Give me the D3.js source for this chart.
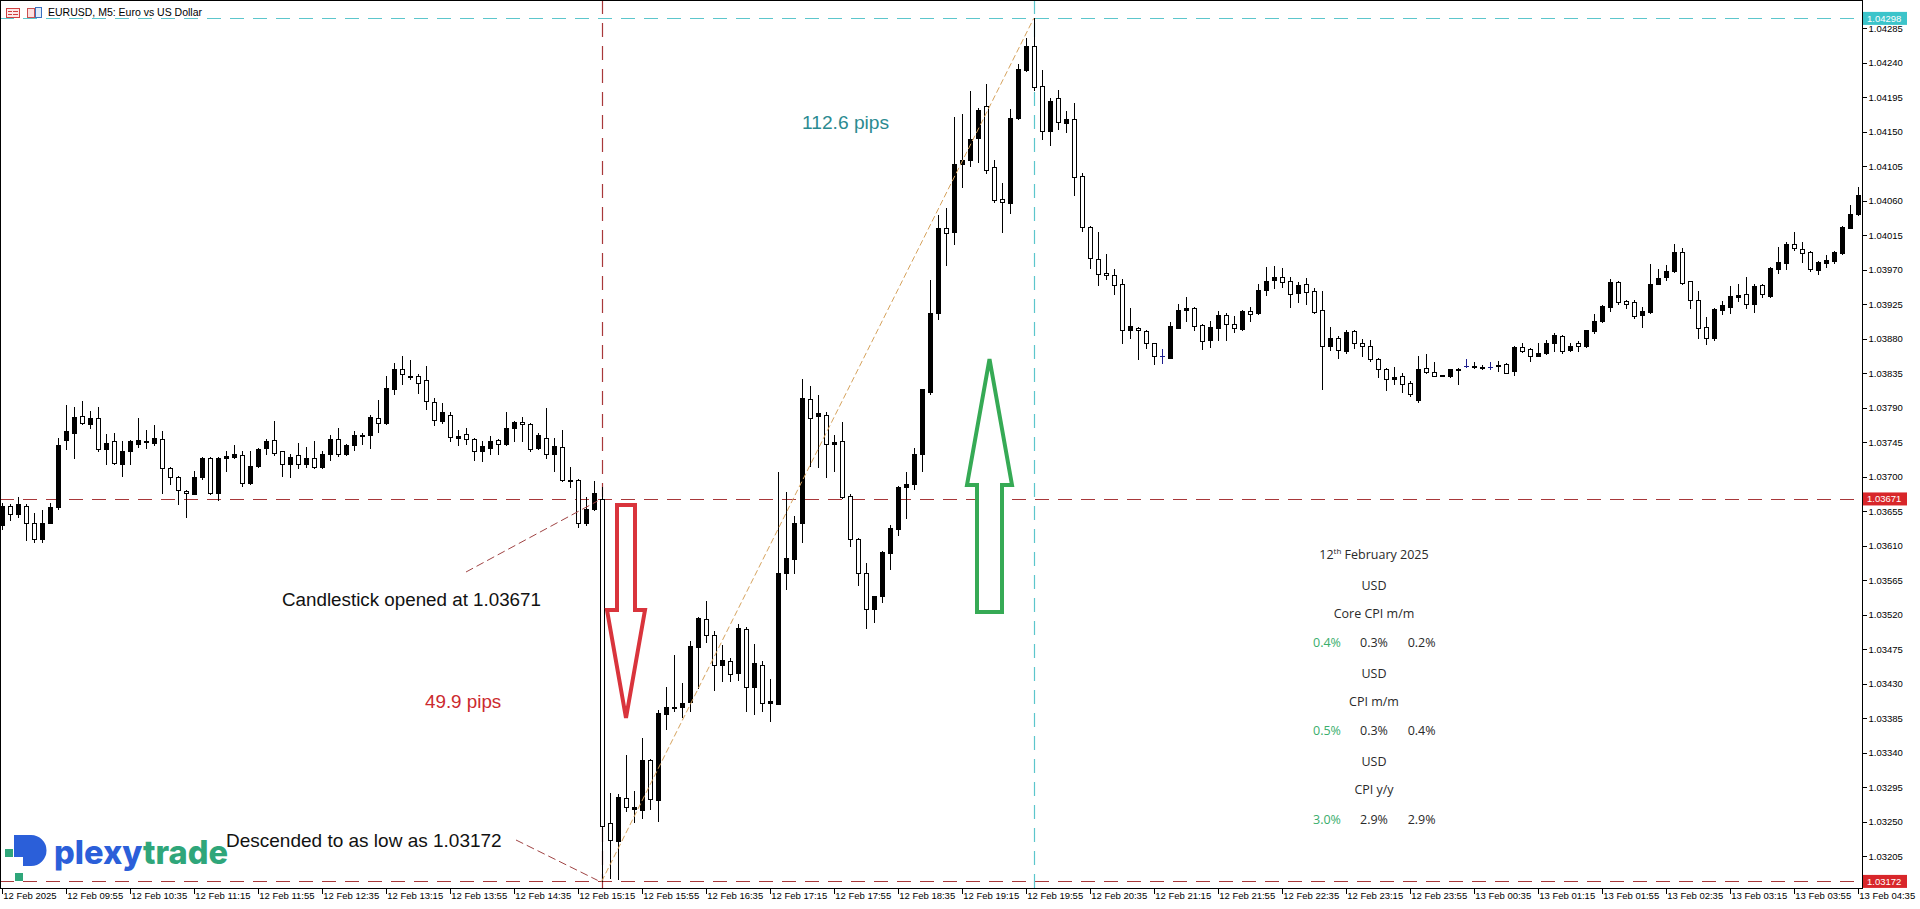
<!DOCTYPE html>
<html><head><meta charset="utf-8">
<script src="https://cdn.jsdelivr.net/npm/d3@7/dist/d3.min.js"></script>
<style>
html,body{margin:0;padding:0;background:#fff;overflow:hidden}
svg{display:block}
</style></head>
<body>
<svg id="c" width="1920" height="909"></svg>
<script>
// ---------- DATA ----------
const timeLabels = ["12 Feb 2025","12 Feb 09:55","12 Feb 10:35","12 Feb 11:15","12 Feb 11:55","12 Feb 12:35","12 Feb 13:15","12 Feb 13:55","12 Feb 14:35","12 Feb 15:15","12 Feb 15:55","12 Feb 16:35","12 Feb 17:15","12 Feb 17:55","12 Feb 18:35","12 Feb 19:15","12 Feb 19:55","12 Feb 20:35","12 Feb 21:15","12 Feb 21:55","12 Feb 22:35","12 Feb 23:15","12 Feb 23:55","13 Feb 00:35","13 Feb 01:15","13 Feb 01:55","13 Feb 02:35","13 Feb 03:15","13 Feb 03:55","13 Feb 04:35"];
const barsPerLabel = 8;

const open = [1.03637,1.03662,1.03651,1.03662,1.03640,1.03619,1.03640,1.03661,1.03748,1.03757,
1.03779,1.03769,1.03776,1.03736,1.03746,1.03717,1.03733,1.03743,1.03746,1.03744,
1.03749,1.03712,1.03700,1.03682,1.03678,1.03699,1.03725,1.03679,1.03725,1.03726,
1.03729,1.03692,1.03714,1.03738,1.03748,1.03733,1.03716,1.03729,1.03716,1.03725,
1.03713,1.03730,1.03749,1.03730,1.03742,1.03753,1.03755,1.03777,1.03770,1.03815,
1.03841,1.03830,1.03832,1.03826,1.03798,1.03773,1.03781,1.03751,1.03756,1.03749,
1.03733,1.03738,1.03748,1.03743,1.03763,1.03772,1.03769,1.03738,1.03751,1.03730,
1.03739,1.03695,1.03696,1.03639,1.03658,1.03671,1.03248,1.03225,1.03281,1.03267,
1.03265,1.03330,1.03278,1.03391,1.03398,1.03400,1.03406,1.03478,1.03515,1.03494,
1.03455,1.03460,1.03444,1.03501,1.03426,1.03455,1.03405,1.03404,1.03575,1.03593,
1.03639,1.03801,1.03779,1.03781,1.03743,1.03746,1.03675,1.03619,1.03575,1.03528,
1.03545,1.03601,1.03632,1.03687,1.03691,1.03730,1.03810,1.03913,1.04024,1.04019,
1.04108,1.04113,1.04142,1.04184,1.04104,1.04062,1.04057,1.04168,1.04231,1.04262,
1.04210,1.04151,1.04194,1.04161,1.04167,1.04093,1.04026,1.03984,1.03966,1.03963,
1.03951,1.03892,1.03894,1.03890,1.03874,1.03857,1.03855,1.03894,1.03918,1.03920,
1.03898,1.03878,1.03894,1.03911,1.03899,1.03893,1.03916,1.03913,1.03944,1.03957,
1.03960,1.03955,1.03940,1.03951,1.03942,1.03918,1.03870,1.03881,1.03864,1.03890,
1.03874,1.03871,1.03853,1.03840,1.03827,1.03832,1.03822,1.03800,1.03842,1.03836,
1.03831,1.03831,1.03840,1.03844,1.03844,1.03842,1.03843,1.03845,1.03847,1.03838,
1.03869,1.03866,1.03858,1.03861,1.03874,1.03884,1.03865,1.03874,1.03870,1.03890,
1.03903,1.03921,1.03954,1.03929,1.03928,1.03911,1.03915,1.03952,1.03960,1.03968,
1.03993,1.03955,1.03930,1.03895,1.03881,1.03918,1.03922,1.03935,1.03938,1.03925,
1.03950,1.03936,1.03971,1.03979,1.04003,1.03997,1.03993,1.03970,1.03979,1.03981,
1.03992,1.04025,1.04043];
const high = [1.03666,1.03665,1.03673,1.03664,1.03653,1.03656,1.03666,1.03751,1.03794,1.03791,
1.03799,1.03786,1.03791,1.03756,1.03757,1.03747,1.03748,1.03777,1.03761,1.03768,
1.03760,1.03713,1.03701,1.03683,1.03708,1.03726,1.03726,1.03726,1.03734,1.03742,
1.03734,1.03734,1.03738,1.03749,1.03773,1.03734,1.03730,1.03744,1.03739,1.03747,
1.03733,1.03755,1.03764,1.03743,1.03760,1.03757,1.03781,1.03800,1.03832,1.03848,
1.03858,1.03852,1.03834,1.03845,1.03803,1.03796,1.03785,1.03761,1.03763,1.03751,
1.03747,1.03753,1.03749,1.03785,1.03773,1.03778,1.03770,1.03757,1.03790,1.03751,
1.03761,1.03713,1.03697,1.03674,1.03695,1.03687,1.03288,1.03286,1.03337,1.03290,
1.03359,1.03332,1.03396,1.03426,1.03467,1.03431,1.03486,1.03517,1.03538,1.03499,
1.03480,1.03463,1.03508,1.03504,1.03482,1.03459,1.03436,1.03706,1.03680,1.03649,
1.03827,1.03818,1.03807,1.03784,1.03755,1.03772,1.03677,1.03620,1.03588,1.03545,
1.03603,1.03637,1.03688,1.03706,1.03738,1.03815,1.03957,1.04041,1.04050,1.04169,
1.04173,1.04203,1.04181,1.04212,1.04113,1.04083,1.04180,1.04239,1.04273,1.04298,
1.04231,1.04194,1.04204,1.04177,1.04188,1.04096,1.04027,1.04019,1.03991,1.03971,
1.03958,1.03920,1.03895,1.03892,1.03875,1.03866,1.03902,1.03926,1.03934,1.03921,
1.03899,1.03903,1.03916,1.03913,1.03910,1.03918,1.03921,1.03952,1.03973,1.03975,
1.03972,1.03960,1.03954,1.03959,1.03946,1.03942,1.03895,1.03883,1.03891,1.03892,
1.03880,1.03878,1.03855,1.03842,1.03843,1.03835,1.03825,1.03858,1.03860,1.03850,
1.03833,1.03841,1.03842,1.03853,1.03850,1.03846,1.03850,1.03851,1.03849,1.03870,
1.03874,1.03868,1.03874,1.03878,1.03887,1.03885,1.03874,1.03877,1.03892,1.03912,
1.03924,1.03958,1.03956,1.03930,1.03931,1.03921,1.03978,1.03971,1.03976,1.04004,
1.03998,1.03956,1.03942,1.03908,1.03920,1.03929,1.03949,1.03951,1.03960,1.03951,
1.03952,1.03973,1.04000,1.04006,1.04019,1.04006,1.03995,1.03982,1.03989,1.03995,
1.04027,1.04055,1.04078];
const low = [1.03632,1.03643,1.03648,1.03617,1.03615,1.03615,1.03639,1.03658,1.03736,1.03725,
1.03769,1.03764,1.03734,1.03717,1.03717,1.03701,1.03717,1.03739,1.03738,1.03742,
1.03679,1.03691,1.03665,1.03647,1.03677,1.03697,1.03678,1.03669,1.03708,1.03725,
1.03688,1.03691,1.03713,1.03730,1.03729,1.03701,1.03700,1.03712,1.03713,1.03712,
1.03712,1.03722,1.03727,1.03729,1.03735,1.03743,1.03738,1.03759,1.03769,1.03808,
1.03821,1.03828,1.03809,1.03789,1.03768,1.03770,1.03746,1.03742,1.03743,1.03722,
1.03720,1.03730,1.03730,1.03742,1.03747,1.03747,1.03734,1.03736,1.03725,1.03707,
1.03695,1.03686,1.03635,1.03637,1.03657,1.03172,1.03176,1.03175,1.03264,1.03250,
1.03255,1.03267,1.03251,1.03371,1.03394,1.03387,1.03394,1.03424,1.03485,1.03422,
1.03433,1.03434,1.03435,1.03394,1.03390,1.03394,1.03381,1.03403,1.03554,1.03574,
1.03615,1.03714,1.03713,1.03699,1.03708,1.03672,1.03609,1.03559,1.03503,1.03510,
1.03536,1.03580,1.03624,1.03646,1.03684,1.03708,1.03808,1.03906,1.03976,1.04004,
1.04078,1.04105,1.04110,1.04096,1.04059,1.04019,1.04044,1.04167,1.04229,1.04205,
1.04141,1.04133,1.04154,1.04150,1.04067,1.04021,1.03972,1.03950,1.03958,1.03938,
1.03874,1.03881,1.03853,1.03868,1.03847,1.03848,1.03855,1.03894,1.03903,1.03891,
1.03867,1.03869,1.03879,1.03879,1.03889,1.03892,1.03903,1.03912,1.03937,1.03946,
1.03947,1.03922,1.03928,1.03925,1.03914,1.03815,1.03865,1.03855,1.03862,1.03868,
1.03858,1.03851,1.03830,1.03813,1.03821,1.03811,1.03805,1.03797,1.03835,1.03831,
1.03831,1.03830,1.03821,1.03843,1.03842,1.03840,1.03841,1.03838,1.03835,1.03833,
1.03863,1.03851,1.03857,1.03860,1.03864,1.03862,1.03864,1.03864,1.03869,1.03887,
1.03902,1.03916,1.03926,1.03920,1.03907,1.03896,1.03914,1.03951,1.03957,1.03967,
1.03952,1.03920,1.03881,1.03873,1.03879,1.03912,1.03913,1.03929,1.03920,1.03915,
1.03934,1.03935,1.03966,1.03971,1.03996,1.03980,1.03968,1.03965,1.03973,1.03979,
1.03991,1.04024,1.04042];
const close = [1.03662,1.03652,1.03664,1.03640,1.03619,1.03640,1.03661,1.03742,1.03760,1.03778,
1.03770,1.03776,1.03736,1.03744,1.03718,1.03734,1.03746,1.03748,1.03747,1.03751,
1.03712,1.03700,1.03683,1.03679,1.03700,1.03725,1.03679,1.03725,1.03727,1.03730,
1.03692,1.03714,1.03736,1.03747,1.03731,1.03716,1.03726,1.03716,1.03725,1.03713,
1.03730,1.03749,1.03730,1.03742,1.03755,1.03755,1.03778,1.03770,1.03816,1.03841,
1.03834,1.03832,1.03822,1.03799,1.03774,1.03785,1.03752,1.03753,1.03749,1.03733,
1.03740,1.03747,1.03743,1.03764,1.03772,1.03769,1.03736,1.03755,1.03730,1.03740,
1.03696,1.03696,1.03639,1.03658,1.03679,1.03244,1.03226,1.03282,1.03269,1.03269,
1.03331,1.03280,1.03392,1.03399,1.03400,1.03405,1.03479,1.03516,1.03493,1.03455,
1.03461,1.03443,1.03503,1.03426,1.03457,1.03405,1.03407,1.03575,1.03594,1.03639,
1.03803,1.03776,1.03783,1.03743,1.03745,1.03674,1.03619,1.03575,1.03528,1.03545,
1.03602,1.03633,1.03687,1.03691,1.03730,1.03814,1.03913,1.04024,1.04018,1.04108,
1.04113,1.04141,1.04178,1.04100,1.04061,1.04058,1.04168,1.04232,1.04262,1.04208,
1.04151,1.04190,1.04163,1.04167,1.04091,1.04026,1.03985,1.03964,1.03963,1.03950,
1.03892,1.03897,1.03891,1.03874,1.03858,1.03857,1.03897,1.03918,1.03920,1.03897,
1.03877,1.03895,1.03911,1.03899,1.03894,1.03916,1.03912,1.03944,1.03956,1.03960,
1.03954,1.03939,1.03950,1.03941,1.03915,1.03870,1.03881,1.03865,1.03889,1.03874,
1.03871,1.03853,1.03840,1.03827,1.03830,1.03821,1.03808,1.03840,1.03836,1.03832,
1.03833,1.03840,1.03841,1.03844,1.03845,1.03843,1.03843,1.03846,1.03835,1.03869,
1.03864,1.03858,1.03862,1.03874,1.03885,1.03864,1.03871,1.03870,1.03891,1.03903,
1.03923,1.03954,1.03928,1.03926,1.03910,1.03916,1.03952,1.03959,1.03969,1.03993,
1.03953,1.03930,1.03894,1.03881,1.03919,1.03924,1.03936,1.03937,1.03926,1.03949,
1.03938,1.03972,1.03980,1.04004,1.03998,1.03992,1.03971,1.03980,1.03983,1.03993,
1.04026,1.04043,1.04067];

const priceTicks = [1.04285,1.04240,1.04195,1.04150,1.04105,1.04060,1.04015,1.03970,1.03925,1.03880,1.03835,1.03790,1.03745,1.03700,1.03655,1.03610,1.03565,1.03520,1.03475,1.03430,1.03385,1.03340,1.03295,1.03250,1.03205];

const levelOpen = 1.03671;   // release candle open
const levelLow  = 1.03172;   // post-release low
const levelHigh = 1.04298;   // session high
const releaseBar = 75;       // 12 Feb 15:30
const highBar = 129;         // 12 Feb 20:00

const panelDate = ["12","th"," February 2025"];
const panelCurrency = "USD";
const indicatorNames = ["Core CPI m/m","CPI m/m","CPI y/y"];
const actualVals   = ["0.4%","0.5%","3.0%"];
const forecastVals = ["0.3%","0.3%","2.9%"];
const previousVals = ["0.2%","0.4%","2.9%"];

// ---------- LAYOUT ----------
const plotRight = 1862, plotBottom = 888;
const svg = d3.select("#c");
const axisFont = "'Liberation Sans', Arial, sans-serif";

const x = d3.scaleLinear().domain([0, open.length - 1]).range([1.7, 1857.7]);
const y = d3.scaleLinear().domain([1.031634, 1.04322]).range([plotBottom, 0]);

const plot = svg.append("g");

function hLine(p, color, dash){
  plot.append("line").attr("x1",0).attr("x2",plotRight)
    .attr("y1",Math.round(y(p))+0.5).attr("y2",Math.round(y(p))+0.5)
    .attr("stroke",color).attr("stroke-width",1.2).attr("stroke-dasharray",dash);
}
function vLine(i, color, dash){
  const xx = Math.round(x(i))+0.5;
  plot.append("line").attr("x1",xx).attr("x2",xx).attr("y1",0).attr("y2",plotBottom)
    .attr("stroke",color).attr("stroke-width",1.2).attr("stroke-dasharray",dash);
}
const brown = "#a8383a", cyan = "#5cc6cc";
hLine(levelHigh, cyan, "14,9");
hLine(levelOpen, brown, "14,9");
hLine(levelLow, brown, "14,9");
vLine(releaseBar, brown, "14,9");
vLine(highBar, cyan, "14,9");

// candles
const cg = plot.append("g").attr("shape-rendering","crispEdges");
open.forEach((o,i)=>{
  const c = close[i];
  const cx = Math.round(x(i));
  const yH = Math.round(y(high[i])), yL = Math.round(y(low[i]));
  const yO = Math.round(y(o)), yC = Math.round(y(c));
  const col = (o===c) ? "#1c1c8c" : "#000";
  cg.append("line").attr("x1",cx+0.5).attr("x2",cx+0.5).attr("y1",yH).attr("y2",yL+1)
    .attr("stroke",col).attr("stroke-width",1);
  if (o===c){
    cg.append("line").attr("x1",cx-2).attr("x2",cx+3).attr("y1",yO+0.5).attr("y2",yO+0.5)
      .attr("stroke",col).attr("stroke-width",1);
  } else {
    const top = Math.min(yO,yC), bot = Math.max(yO,yC);
    cg.append("rect").attr("x",cx-1.5).attr("y",top+0.5).attr("width",4)
      .attr("height",Math.max(bot-top,1))
      .attr("fill", c>o ? "#000" : "#fff").attr("stroke","#000").attr("stroke-width",1);
  }
});

// trend line low -> high
plot.append("line").attr("x1",x(releaseBar)).attr("y1",y(levelLow))
  .attr("x2",x(highBar)).attr("y2",y(levelHigh))
  .attr("stroke","#d6a35e").attr("stroke-width",1).attr("stroke-dasharray","6,3");

// callout lines
plot.append("line").attr("x1",466).attr("y1",572).attr("x2",x(releaseBar)-4).attr("y2",y(levelOpen)+2)
  .attr("stroke","#a04444").attr("stroke-width",1).attr("stroke-dasharray","8,4");
plot.append("line").attr("x1",516).attr("y1",840).attr("x2",x(releaseBar)-4).attr("y2",y(levelLow)-1)
  .attr("stroke","#a04444").attr("stroke-width",1).attr("stroke-dasharray","8,4");

// arrows
plot.append("polygon")
  .attr("points","617,505 635,505 635,610 645,610 626,718 607,610 617,610")
  .attr("fill","#fff").attr("stroke","#d9343c").attr("stroke-width",4).attr("stroke-linejoin","miter");
plot.append("polygon")
  .attr("points","989.5,359 1012,485 1002,485 1002,612 977,612 977,485 967,485")
  .attr("fill","#fff").attr("stroke","#36aa55").attr("stroke-width",4).attr("stroke-linejoin","miter");

// annotation texts
const annFont = "'Liberation Sans', Arial, sans-serif";
plot.append("text").attr("x",282).attr("y",606).attr("font-family",annFont).attr("font-size",18.8)
  .attr("fill","#111").text("Candlestick opened at " + levelOpen.toFixed(5));
plot.append("text").attr("x",226).attr("y",847).attr("font-family",annFont).attr("font-size",19)
  .attr("fill","#111").text("Descended to as low as " + levelLow.toFixed(5));
plot.append("text").attr("x",425).attr("y",708).attr("font-family",annFont).attr("font-size",18.8)
  .attr("fill","#cc2a2e").text(((levelOpen-levelLow)*10000).toFixed(1) + " pips");
plot.append("text").attr("x",802).attr("y",129).attr("font-family",annFont).attr("font-size",19.2)
  .attr("fill","#2b8b91").text(((levelHigh-levelLow)*10000).toFixed(1) + " pips");

// info panel
const pf = "'Open Sans', 'Noto Sans', sans-serif";
const pcx = 1374, pg = plot.append("g").attr("font-family",pf).attr("font-size",12.5).attr("fill","#2a2a2a");
const dt = pg.append("text").attr("x",pcx).attr("y",559).attr("text-anchor","middle");
dt.append("tspan").text(panelDate[0]);
dt.append("tspan").attr("font-size",8).attr("dy",-5).text(panelDate[1]);
dt.append("tspan").attr("dy",5).text(panelDate[2]);
indicatorNames.forEach((nm,k)=>{
  const base = 589.5 + k*88.2;
  pg.append("text").attr("x",pcx).attr("y",base).attr("text-anchor","middle").text(panelCurrency);
  pg.append("text").attr("x",pcx).attr("y",base+28.2).attr("text-anchor","middle").text(nm);
  pg.append("text").attr("x",pcx-47).attr("y",base+57.6).attr("text-anchor","middle").attr("fill","#3aae6c").text(actualVals[k]);
  pg.append("text").attr("x",pcx).attr("y",base+57.6).attr("text-anchor","middle").text(forecastVals[k]);
  pg.append("text").attr("x",pcx+47.6).attr("y",base+57.6).attr("text-anchor","middle").text(previousVals[k]);
});

// logo
const lg = plot.append("g");
lg.append("path").attr("d","M14,835 H31 A15.5,15.5 0 0 1 31,866 H23 V857 H14 Z").attr("fill","#2b5fd9");
lg.append("rect").attr("x",5).attr("y",849).attr("width",8).attr("height",8).attr("fill","#2fa67a");
lg.append("rect").attr("x",15).attr("y",873).attr("width",8).attr("height",8).attr("fill","#2fa67a");
const lt = lg.append("text").attr("x",54).attr("y",864).attr("font-family","Inter, 'Noto Sans', sans-serif")
  .attr("font-weight",800).attr("font-size",33).attr("textLength",174).attr("lengthAdjust","spacingAndGlyphs");
lt.append("tspan").attr("fill","#2b5fd9").text("plexy");
lt.append("tspan").attr("fill","#2fa67a").text("trade");

// header
const hg = svg.append("g");
hg.append("rect").attr("x",6.5).attr("y",8.5).attr("width",13).attr("height",9).attr("fill","#fde8e8").attr("stroke","#d04040");
[11.5,14.5].forEach(yy=>{ hg.append("line").attr("x1",8).attr("x2",12).attr("y1",yy).attr("y2",yy).attr("stroke","#d04040");
  hg.append("line").attr("x1",13).attr("x2",18).attr("y1",yy).attr("y2",yy).attr("stroke","#d04040");});
hg.append("rect").attr("x",27.5).attr("y",8.5).attr("width",7).attr("height",9).attr("fill","#fde0e0").attr("stroke","#c85050");
hg.append("rect").attr("x",35.5).attr("y",7.5).attr("width",6).attr("height",10).attr("fill","#e0ecfa").attr("stroke","#3a70c0");
hg.append("text").attr("x",48).attr("y",16).attr("font-family",axisFont).attr("font-size",10.5)
  .attr("fill","#000").text("EURUSD, M5:  Euro vs US Dollar");

// frame
svg.append("rect").attr("x",0.5).attr("y",0.5).attr("width",plotRight).attr("height",plotBottom)
  .attr("fill","none").attr("stroke","#000").attr("stroke-width",1).attr("shape-rendering","crispEdges");

// price axis
const ya = svg.append("g").attr("transform",`translate(${plotRight+0.5},0)`)
  .call(d3.axisRight(y).tickValues(priceTicks).tickSize(4).tickPadding(2).tickFormat(d=>d.toFixed(5)));
ya.select(".domain").remove();
ya.selectAll("line").attr("stroke","#000").attr("shape-rendering","crispEdges");
ya.selectAll("text").attr("font-family",axisFont).attr("font-size",9.5).attr("fill","#000");

// price markers
function marker(p, fill){
  const g = svg.append("g").attr("transform",`translate(${plotRight+1},${y(p)})`);
  g.append("rect").attr("x",0).attr("y",-6.5).attr("width",44).attr("height",13).attr("fill",fill);
  g.append("text").attr("x",4).attr("y",3.5).attr("font-family",axisFont).attr("font-size",9.5)
    .attr("fill","#fff").text(p.toFixed(5));
}
marker(levelHigh, "#3cc4ca");
marker(levelOpen, "#d8262a");
marker(levelLow, "#d8262a");

// time axis
const xa = svg.append("g").attr("transform",`translate(0,${plotBottom+0.5})`)
  .call(d3.axisBottom(x).tickValues(timeLabels.map((_,i)=>i*barsPerLabel)).tickSize(5)
    .tickFormat((d,i)=>timeLabels[i]));
xa.select(".domain").remove();
xa.selectAll("line").attr("stroke","#000").attr("shape-rendering","crispEdges");
xa.selectAll("text").attr("font-family",axisFont).attr("font-size",9.5).attr("fill","#000")
  .attr("text-anchor","start").attr("x",1).attr("y",4).attr("dy","0.71em");
</script>
</body></html>
